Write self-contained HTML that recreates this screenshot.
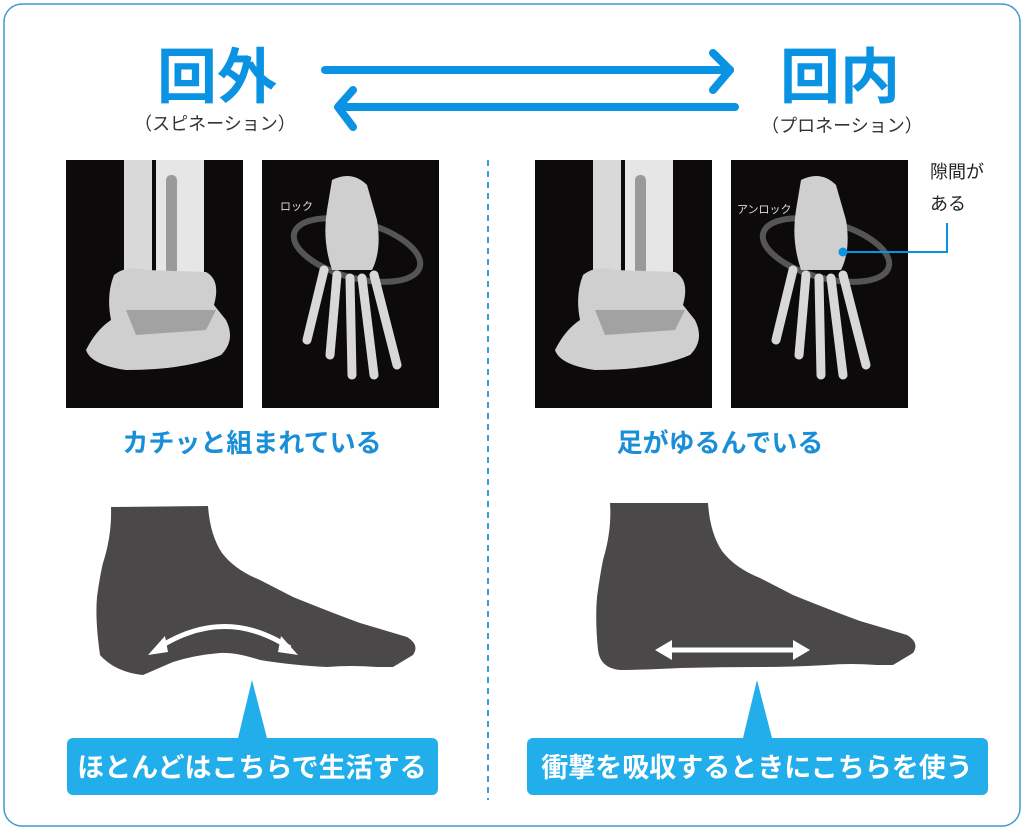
<!DOCTYPE html>
<html><head><meta charset="utf-8"><style>
html,body{margin:0;padding:0;background:#fff}
svg{display:block}
text{font-family:"Liberation Sans","Noto Sans CJK JP",sans-serif}
</style></head><body>
<svg width="1024" height="830" viewBox="0 0 1024 830" xmlns="http://www.w3.org/2000/svg">
<defs>
<g id="front">
 <rect x="0" y="0" width="177" height="248" fill="#0d0a0b"/>
 <rect x="58" y="0" width="28" height="130" fill="#d9d9d9"/>
 <rect x="90" y="0" width="48" height="125" fill="#e6e6e6"/>
 <rect x="100" y="15" width="11" height="100" fill="#9a9a9a" rx="5"/>
 <path d="M48 115 Q60 105 80 110 L140 112 Q155 120 148 145 L160 160 Q170 180 155 195 Q120 210 60 210 Q25 205 20 190 Q30 170 45 160 Q40 135 48 115Z" fill="#cfcfcf"/>
 <path d="M60 150 L150 150 L140 170 L70 175Z" fill="#8e8e8e" opacity="0.7"/>
</g>
<g id="top">
 <rect x="0" y="0" width="177" height="248" fill="#0d0a0b"/>
 <ellipse cx="95" cy="90" rx="65" ry="28" fill="none" stroke="#555" stroke-width="6" transform="rotate(15 95 90)"/>
 <path d="M70 20 Q90 10 105 25 L115 60 Q120 90 110 110 L70 110 Q60 80 65 50Z" fill="#cfcfcf"/>
 <g stroke="#d8d8d8" stroke-width="9" stroke-linecap="round">
  <line x1="62" y1="110" x2="45" y2="180"/>
  <line x1="75" y1="115" x2="68" y2="195"/>
  <line x1="88" y1="118" x2="90" y2="215"/>
  <line x1="100" y1="118" x2="112" y2="215"/>
  <line x1="112" y1="115" x2="135" y2="205"/>
 </g>
</g>
</defs>

<rect x="4" y="4" width="1016" height="822" rx="18" fill="#fff" stroke="#3a9bd5" stroke-width="1.5"/>

<text x="217" y="98" font-size="60" font-weight="bold" fill="#0a93e3" text-anchor="middle">回外</text>
<text x="840" y="98" font-size="60" font-weight="bold" fill="#0a93e3" text-anchor="middle">回内</text>
<text x="215" y="130" font-size="18" fill="#333" text-anchor="middle">（スピネーション）</text>
<text x="842" y="132" font-size="18" fill="#333" text-anchor="middle">（プロネーション）</text>

<g stroke="#0a93e3" stroke-width="8" stroke-linecap="round" stroke-linejoin="round" fill="none">
 <line x1="325" y1="70" x2="730" y2="70"/>
 <polyline points="713,53 730,70 713,90"/>
 <line x1="735" y1="107" x2="340" y2="107"/>
 <polyline points="353,90 338,107 353,127"/>
</g>

<use href="#front" x="66" y="160"/>
<use href="#top" x="262" y="160"/>
<use href="#front" x="535" y="160"/>
<use href="#top" x="731" y="160"/>
<text x="280" y="210" font-size="11" fill="#ddd">ロック</text>
<text x="737" y="213" font-size="11" fill="#ddd">アンロック</text>
<text x="930" y="178" font-size="18" fill="#222">隙間が</text>
<text x="930" y="210" font-size="18" fill="#222">ある</text>
<polyline points="947,223 947,252 843,252" fill="none" stroke="#0a93e3" stroke-width="2"/>
<circle cx="843" cy="252" r="4.5" fill="#0a93e3"/>

<line x1="488" y1="160" x2="488" y2="800" stroke="#3a9bd5" stroke-width="2" stroke-dasharray="6,5"/>

<text x="252" y="452" font-size="26" font-weight="bold" fill="#1a8fd8" text-anchor="middle">カチッと組まれている</text>
<text x="720" y="452" font-size="26" font-weight="bold" fill="#1a8fd8" text-anchor="middle">足がゆるんでいる</text>

<path d="M111 507 L208 506 Q210 535 222 553 Q235 570 260 580 L293 597 Q330 612 360 623 L407 637 Q420 645 413 655 L393 667 L377 667 Q350 665 327 667 Q290 665 260 660 Q235 652 220 653 Q195 655 173 662 L143 675 Q115 672 100 655 Q95 620 97 597 Q100 575 103 563 Q112 535 111 507Z" fill="#4a4849"/>
<path d="M158 648 Q225 605 290 648" fill="none" stroke="#fff" stroke-width="5"/>
<polygon points="148,655 165,636 168,652" fill="#fff"/>
<polygon points="298,655 281,636 278,652" fill="#fff"/>
<polygon points="252,680 238,738 267,738" fill="#22aeea"/>
<rect x="67" y="738" width="371" height="57" rx="6" fill="#22aeea"/>
<text x="252" y="777" font-size="27" font-weight="bold" fill="#fff" text-anchor="middle">ほとんどはこちらで生活する</text>

<path d="M610 503 L708 503 Q710 533 722 551 Q735 568 760 578 L793 595 Q830 610 860 621 L907 635 Q920 643 913 653 L893 665 L877 665 Q850 663 827 665 Q790 667 760 667 Q720 667 680 668 Q640 670 620 670 Q600 668 598 650 Q595 620 597 597 Q600 575 603 560 Q612 530 610 503Z" fill="#4a4849"/>
<line x1="665" y1="650" x2="800" y2="650" stroke="#fff" stroke-width="5"/>
<polygon points="655,650 672,640 672,660" fill="#fff"/>
<polygon points="810,650 793,640 793,660" fill="#fff"/>
<polygon points="757,680 743,738 772,738" fill="#22aeea"/>
<rect x="527" y="738" width="461" height="57" rx="6" fill="#22aeea"/>
<text x="757" y="777" font-size="27" font-weight="bold" fill="#fff" text-anchor="middle">衝撃を吸収するときにこちらを使う</text>
</svg>
</body></html>
